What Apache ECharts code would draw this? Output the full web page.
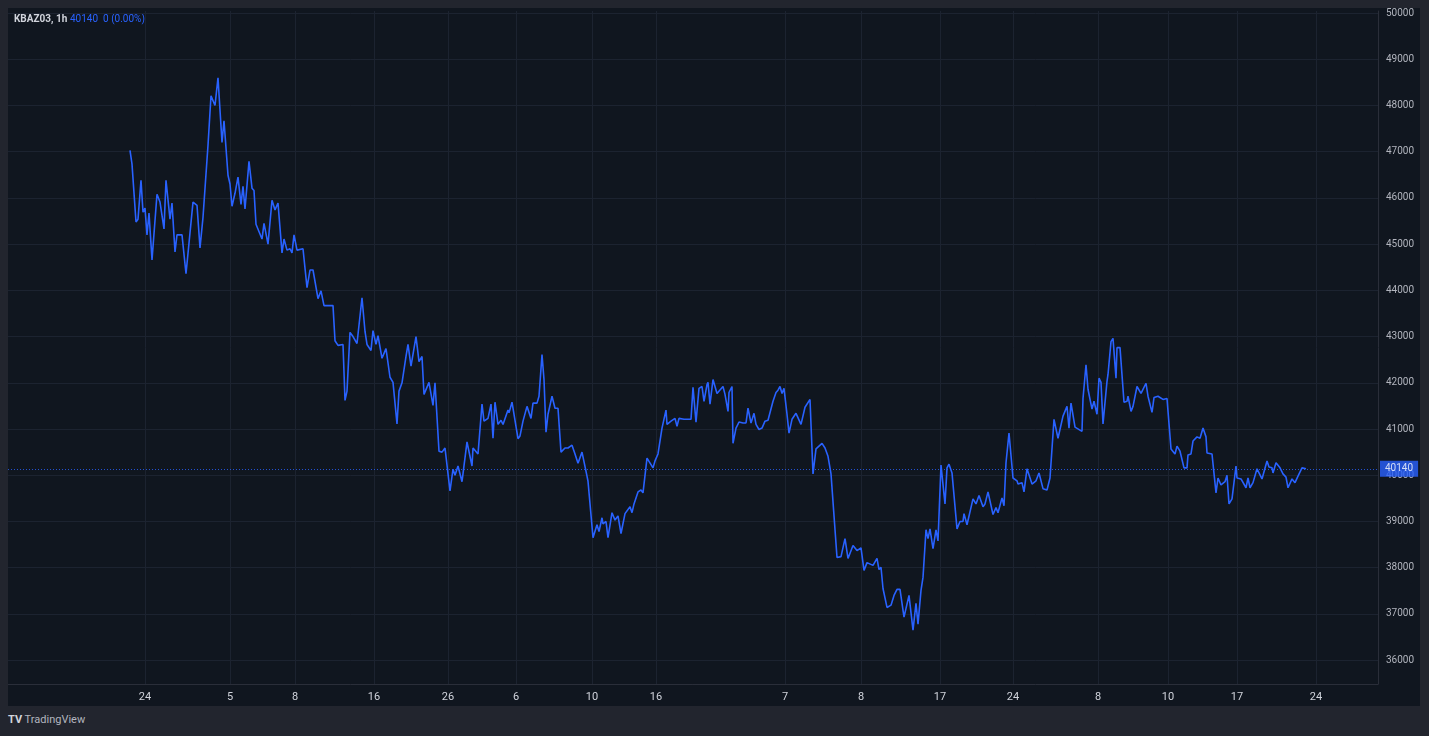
<!DOCTYPE html>
<html>
<head>
<meta charset="utf-8">
<script src="https://cdn.jsdelivr.net/npm/echarts@6/dist/echarts.min.js"></script>
<style>
  html, body { margin: 0; padding: 0; background: #22252e; }
  #main { position: absolute; left: 8px; top: 8px; width: 1412px; height: 698px; background: #10161f; }
</style>
</head>
<body>
<div id="main"></div>
<script>
// [bar number, close price]
var prices = [
[0,47030],[2,46730],[6,45480],[8,45540],[11,46380],[13,45690],[15,45780],[17,45200],[19,45670],[22,44660],
[27,46080],[30,45910],[32,45910],[34,45330],[36,46380],[40,45540],[42,45890],[45,44830],[47,45200],[52,45200],
[56,44360],[58,44340],[63,45910],[67,45840],[70,44920],[73,45580],[75,45580],[78,47140],[81,48210],[85,48000],
[88,48600],[92,47200],[94,47670],[98,46490],[100,46300],[102,45820],[105,46100],[108,46450],[111,45860],[113,46250],
[115,45760],[119,46790],[122,46210],[124,46160],[126,45430],[128,45390],[132,45110],[134,45450],[138,45000],[142,45950],
[145,45740],[148,45890],[152,44810],[154,45110],[157,44870],[160,44900],[162,44810],[164,45200],[167,44870],[173,44900],
[177,44060],[180,44440],[183,44440],[188,43820],[191,43990],[194,43670],[203,43670],[205,42910],[208,42810],[213,42830],
[215,41620],[217,41820],[220,43090],[223,43000],[227,42850],[232,43840],[235,43110],[237,42830],[241,42700],[243,43130],
[246,42830],[248,43020],[250,43000],[252,42530],[256,42740],[260,42120],[263,42010],[267,41110],[269,41820],[272,42000],
[276,42570],[278,42830],[281,42360],[286,43000],[289,42460],[292,42570],[294,41750],[299,42010],[303,41510],[305,42000],
[309,40520],[312,40500],[315,40590],[320,39660],
[323,40130],[325,40000],[328,40200],[332,39860],[337,40720],[339,40740],[342,40200],[343,40590],[348,40460],[352,41540],
[354,41170],[358,41230],[361,41540],[363,40800],[365,41580],[368,41100],[371,41190],[373,41100],[375,41130],[378,41410],
[379,41350],[382,41580],[384,41540],[388,40790],[390,40850],[393,41170],[395,41190],[397,41490],[401,41230],[403,41560],
[407,41560],[409,41710],[412,42610],[414,42070],[416,40930],[418,41320],[420,41350],[422,41710],[425,41450],[428,41450],
[431,40500],[433,40480],[435,40590],[438,40590],[442,40650],[445,40460],[448,40260],[452,40500],[454,40520],[457,39980],
[458,39870],[463,38650],[467,38930],[469,38780],[472,39080],[473,38950],[476,39000],[478,38650],[482,39190],[485,39030],
[488,39120],[491,38740],[495,39170],[500,39320],[502,39190],[504,39380],[506,39340],[508,39640],[511,39680],[513,39620],
[517,40370],[519,40350],[523,40160],[525,40310],[528,40460],[532,41020],[536,41410],[537,41100],[541,41170],[543,41130],
[545,41230],[547,41060],[549,41230],[554,41210],[561,41210],[563,41900],[566,41150],[569,41880],[572,41920],[574,41600],
[577,41960],[578,42010],[580,41540],[583,42070],[585,42070],[587,41770],[589,41750],[593,41920],[595,41750],[598,41380],
[599,41790],[602,41920],[603,40690],[606,41020],[609,41150],[613,41130],[616,41130],[618,41450],[621,41130],[624,41340],
[626,41100],[629,40990],[632,41020],[635,41170],[638,41190],[643,41600],[646,41790],[648,41840],[650,41920],[652,41770],
[654,41880],[657,41320],[659,40910],[662,41210],[664,41170],[666,41340],[671,41100],[675,41470],[680,41640],[681,41660],
[683,40030],[686,40570],[688,40570],[692,40690],[695,40590],[698,40410],
[701,40030],[703,40010],[707,38220],[711,38240],[715,38630],[718,38200],[723,38480],[727,38370],[731,38430],[734,37940],
[737,38110],[743,38050],[747,38200],[749,37960],[751,38010],[753,37550],[757,37140],[761,37190],[764,37400],[767,37530],
[770,37530],[774,36930],[779,37400],[783,36650],[786,37230],[788,36780],[791,37510],[793,37790],[796,38820],[798,38630],
[800,38840],[803,38410],[806,38820],[808,38580],[811,40220],[813,40240],[815,39380],[817,40160],[819,40240],[822,40050],
[824,40030],[827,38840],[830,39000],[833,39000],[834,39170],[837,38930],[839,38950],[843,39490],[846,39380],[849,39560],
[853,39320],[855,39380],[858,39640],[863,39150],[866,39300],[868,39190],[872,39510],[874,39340],[876,40270],[879,40910],
[883,39940],[887,39880],[888,39810],[892,39840],[894,39640],[897,40140],[899,40180],[902,39810],[906,39880],[909,40050],
[913,39710],[917,39680],[920,39940],[922,39980],[924,41210],[928,40800],[933,41280],[937,41490],[939,41020],[941,41560],
[945,41040],[952,40950],[953,41660],[956,42390],[958,41860],[962,41430],[964,41600],[967,41320],[969,42100],[971,42010],
[973,41110],[977,42030],[978,42180],[981,42890],[983,42960],[986,42100],[987,42760],[990,42760],[994,41580],[997,41600],
[998,41710],[1001,41380],[1003,41490],[1007,41920],[1009,41940],[1011,41770],[1016,41990],[1018,41710],[1020,41710],[1022,41360],
[1024,41680],[1028,41710],[1033,41640],[1037,41660],[1041,40570],[1045,40460],[1047,40630],[1050,40520],[1054,40160],[1057,40160],
[1058,40440],[1061,40460],[1063,40740],[1067,40830],[1070,40800],[1073,41020],[1076,40830],[1077,40480],[1082,40460],[1086,39620],
[1088,39940],[1091,39790],[1095,39860],[1097,40000],[1099,39380],[1102,39490],[1106,40200],[1107,39940],[1111,39920],[1116,39730],
[1118,39940],[1120,39730],[1123,39840],[1125,39810],[1127,40140],[1129,40140],[1132,39920],[1134,39940],[1137,40310],[1139,40180],
[1142,40160],[1143,40050],[1146,40270],[1150,40160],[1153,40030],[1156,39960],[1158,39730],[1162,39920],[1165,39840],[1168,39980],
[1172,40160],[1176,40140]
];
var dayBars = [15,100,165,244,318,386,462,526,655,731,810,883,968,1038,1107,1186];
var dayLabels = ['24','5','8','16','26','6','10','16','7','8','17','24','8','10','17','24'];
var priceTicks = [36000,37000,38000,39000,40000,41000,42000,43000,44000,45000,46000,47000,48000,49000,50000];
var lastPrice = 40140;

var myChart = echarts.init(document.getElementById('main'));
var gridColor = '#1c2330';
var option = {
    backgroundColor: '#10161f',
    animation: false,
    grid: {left: 0, right: 42, top: 0, bottom: 22},
    xAxis: {
        type: 'value',
        min: -122,
        max: 1248,
        axisLine: {show: true, lineStyle: {color: '#2a2e39'}},
        axisTick: {show: false, customValues: dayBars},
        axisLabel: {
            customValues: dayBars,
            color: '#d1d4dc',
            fontSize: 11,
            fontFamily: 'Roboto',
            margin: 8,
            formatter: function (v) {
                var k = dayBars.indexOf(v);
                return k >= 0 ? dayLabels[k] : '';
            }
        },
        splitLine: {show: true, lineStyle: {color: gridColor}}
    },
    yAxis: {
        type: 'value',
        position: 'right',
        min: 35484,
        max: 50043,
        axisLine: {show: true, onZero: false, lineStyle: {color: '#2a2e39'}},
        axisTick: {show: false, customValues: priceTicks},
        axisLabel: {
            customValues: priceTicks,
            color: '#b2b5be',
            fontSize: 10,
            fontFamily: 'Roboto',
            margin: 8,
            formatter: function (v) { return String(v); }
        },
        splitLine: {show: true, lineStyle: {color: gridColor}}
    },
    graphic: [
        {type: 'text', left: 6, top: 6, style: {text: 'KBAZ03, 1h', fill: '#d1d4dc', font: 'bold 10px Roboto'}},
        {type: 'text', left: 62, top: 6, style: {text: '40140  0 (0.00%)', fill: '#2962ff', font: '10px Roboto'}}
    ],
    series: [{
        type: 'line',
        data: prices,
        showSymbol: false,
        lineStyle: {color: '#2962ff', width: 1.6},
        markLine: {
            silent: true,
            symbol: 'none',
            lineStyle: {color: '#2962ff', type: [1, 2], width: 1, opacity: 0.8},
            label: {
                position: 'end',
                formatter: String(lastPrice),
                backgroundColor: '#2962ff',
                color: '#ffffff',
                fontSize: 10,
                fontFamily: 'Roboto',
                padding: [3, 5],
                distance: 2
            },
            data: [{yAxis: lastPrice}]
        }
    }]
};
myChart.setOption(option);
</script>
<div style="position:absolute;left:8px;top:713px;color:#b2b5be;font:11px Roboto;"><b style="color:#d1d4dc">TV</b> TradingView</div>
</body>
</html>
